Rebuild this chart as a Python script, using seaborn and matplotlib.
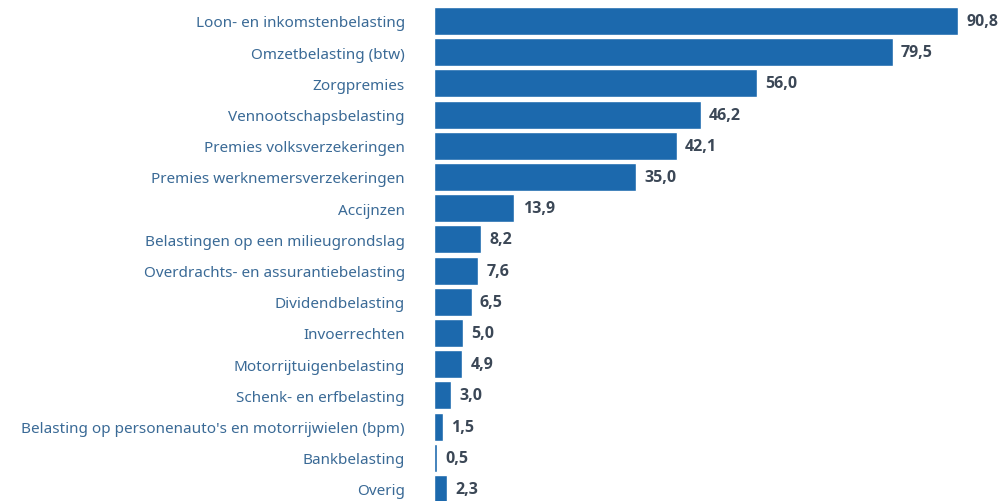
import pandas as pd
import seaborn as sns
import matplotlib.pyplot as plt

# belastingen en premies (mld euro)
categorieen = [
    "Loon- en inkomstenbelasting",
    "Omzetbelasting (btw)",
    "Zorgpremies",
    "Vennootschapsbelasting",
    "Premies volksverzekeringen",
    "Premies werknemersverzekeringen",
    "Accijnzen",
    "Belastingen op een milieugrondslag",
    "Overdrachts- en assurantiebelasting",
    "Dividendbelasting",
    "Invoerrechten",
    "Motorrijtuigenbelasting",
    "Schenk- en erfbelasting",
    "Belasting op personenauto's en motorrijwielen (bpm)",
    "Bankbelasting",
    "Overig",
]
bedragen = [90.8, 79.5, 56.0, 46.2, 42.1, 35.0, 13.9, 8.2, 7.6, 6.5, 5.0, 4.9, 3.0, 1.5, 0.5, 2.3]

df = pd.DataFrame({"categorie": categorieen, "bedrag": bedragen})

sns.set_theme(style="white")
plt.rcParams['font.family'] = ['Noto Sans', 'DejaVu Sans']

fig = plt.figure(figsize=(10.05, 5.02), dpi=100)
ax = fig.add_axes([0.432, 0.0, 0.568, 1.0])

sns.barplot(data=df, y="categorie", x="bedrag", color="#1c69ad", saturation=1,
            width=0.9, orient="h", ax=ax)

# waarden naast de balken, met komma
for c in ax.containers:
    ax.bar_label(c, labels=[f"{v:.1f}".replace(".", ",") for v in bedragen],
                 padding=6, fontsize=11.5, fontweight="bold", color="#3b4756",
                 family=['Open Sans', 'DejaVu Sans'])

ax.set_xlim(0, 99)
ax.set_ylim(15.385, -0.705)
ax.set_xlabel("")
ax.set_ylabel("")
ax.set_xticks([])
ax.tick_params(axis="y", length=0, pad=21, labelsize=11, labelcolor="#3a6a96")
sns.despine(ax=ax, left=True, bottom=True)

fig.savefig("out.png", dpi=100)
